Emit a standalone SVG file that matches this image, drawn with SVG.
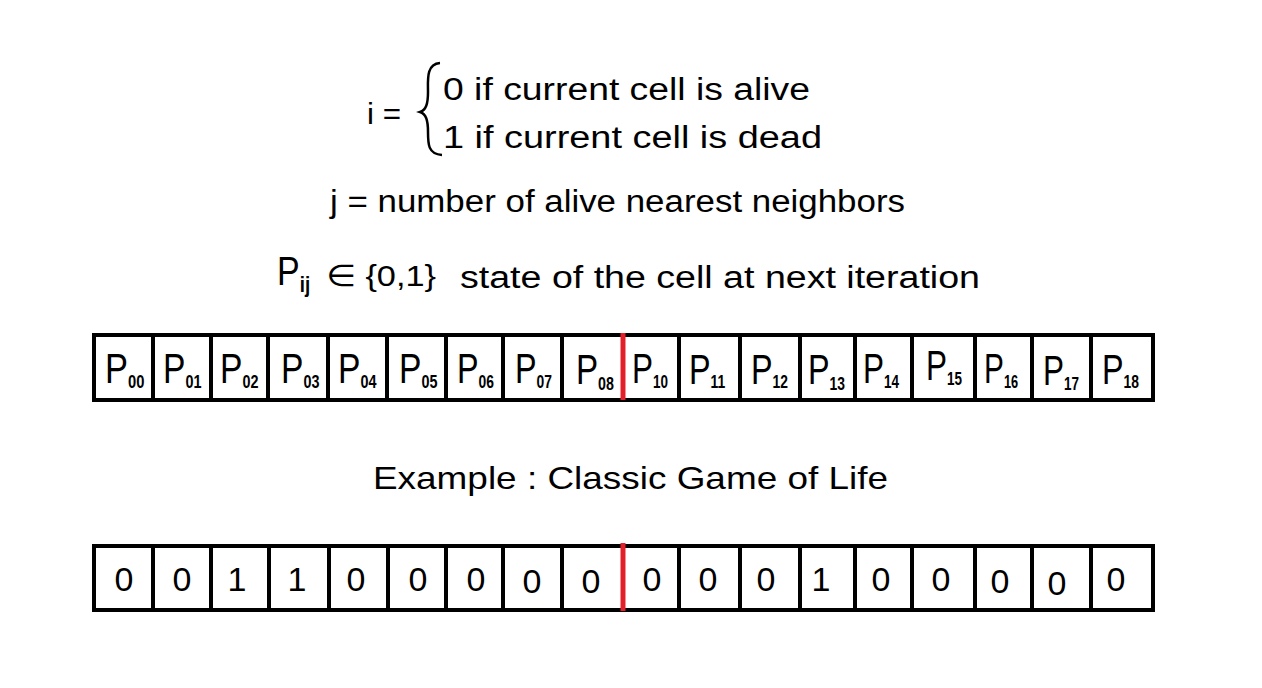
<svg xmlns="http://www.w3.org/2000/svg" width="1262" height="688" viewBox="0 0 1262 688">
<style>
.t{font-family:"Liberation Sans","DejaVu Sans",sans-serif;fill:#000}
.cell{fill:#fff;stroke:#000;stroke-width:4}
.p{font-family:"Liberation Sans",sans-serif;font-size:42px}
.s{font-size:18px;font-weight:bold}
.d{font-family:"Liberation Sans",sans-serif;font-size:34px;text-anchor:middle}
.red{stroke:#e3202a;stroke-width:5;fill:none}
</style>
<rect width="1262" height="688" fill="#fff"/>
<g id="definitions">
<text class="t" x="367" y="124" font-size="30" textLength="34" lengthAdjust="spacingAndGlyphs">i =</text>
<path d="M440,63 C426,64 428,80 428,92 C428,104 426,110 420,112 C426,114 428,120 428,132 C428,144 428,154 442,155" fill="none" stroke="#000" stroke-width="2.5"/>
<text class="t" x="443" y="100" font-size="31" textLength="367" lengthAdjust="spacingAndGlyphs">0  if  current cell is alive</text>
<text class="t" x="443" y="148" font-size="31" textLength="379" lengthAdjust="spacingAndGlyphs">1  if  current cell is dead</text>
<text class="t" x="330" y="212" font-size="31" textLength="575" lengthAdjust="spacingAndGlyphs">j =  number of alive nearest neighbors</text>
<text class="t" transform="translate(277,285) scale(0.85,1)" font-size="40">P<tspan font-size="22" font-weight="bold" dy="7">ij</tspan></text>
<text class="t" x="326" y="286" font-size="30" textLength="110" lengthAdjust="spacingAndGlyphs">∈ {0,1}</text>
<text class="t" x="460" y="288" font-size="31" textLength="520" lengthAdjust="spacingAndGlyphs">state of the cell at next iteration</text>
<text class="t" x="373" y="489" font-size="32" textLength="515" lengthAdjust="spacingAndGlyphs">Example :  Classic Game of Life</text>
</g>
<g id="row-P">
<g id="c00"><rect class="cell" x="94" y="335" width="59" height="65"/><text class="p" transform="translate(105,383) scale(0.82,1)">P<tspan class="s" dy="5">00</tspan></text></g>
<g id="c01"><rect class="cell" x="153" y="335" width="58" height="65"/><text class="p" transform="translate(163,383) scale(0.8,1)">P<tspan class="s" dy="5">01</tspan></text></g>
<g id="c02"><rect class="cell" x="211" y="335" width="57" height="65"/><text class="p" transform="translate(220,383) scale(0.8,1)">P<tspan class="s" dy="5">02</tspan></text></g>
<g id="c03"><rect class="cell" x="268" y="335" width="60" height="65"/><text class="p" transform="translate(281,383) scale(0.8,1)">P<tspan class="s" dy="5">03</tspan></text></g>
<g id="c04"><rect class="cell" x="328" y="335" width="59" height="65"/><text class="p" transform="translate(338,383) scale(0.8,1)">P<tspan class="s" dy="5">04</tspan></text></g>
<g id="c05"><rect class="cell" x="387" y="335" width="59" height="65"/><text class="p" transform="translate(399,383) scale(0.8,1)">P<tspan class="s" dy="5">05</tspan></text></g>
<g id="c06"><rect class="cell" x="446" y="335" width="57" height="65"/><text class="p" transform="translate(457,383) scale(0.77,1)">P<tspan class="s" dy="5">06</tspan></text></g>
<g id="c07"><rect class="cell" x="503" y="335" width="59" height="65"/><text class="p" transform="translate(515,383) scale(0.77,1)">P<tspan class="s" dy="5">07</tspan></text></g>
<g id="c08"><rect class="cell" x="562" y="335" width="61" height="65"/><text class="p" transform="translate(576,384) scale(0.79,1)">P<tspan class="s" dy="6">08</tspan></text></g>
<g id="c10"><rect class="cell" x="623" y="335" width="56" height="65"/><text class="p" transform="translate(632,383) scale(0.75,1)">P<tspan class="s" dy="5">10</tspan></text></g>
<g id="c11"><rect class="cell" x="679" y="335" width="61" height="65"/><text class="p" transform="translate(689,384) scale(0.77,1)">P<tspan class="s" dy="4">11</tspan></text></g>
<g id="c12"><rect class="cell" x="740" y="335" width="60" height="65"/><text class="p" transform="translate(751,384) scale(0.77,1)">P<tspan class="s" dy="4">12</tspan></text></g>
<g id="c13"><rect class="cell" x="800" y="335" width="55" height="65"/><text class="p" transform="translate(808,384) scale(0.77,1)">P<tspan class="s" dy="6">13</tspan></text></g>
<g id="c14"><rect class="cell" x="855" y="335" width="57" height="65"/><text class="p" transform="translate(863,383) scale(0.75,1)">P<tspan class="s" dy="5">14</tspan></text></g>
<g id="c15"><rect class="cell" x="912" y="335" width="63" height="65"/><text class="p" transform="translate(926,380) scale(0.75,1)">P<tspan class="s" dy="5">15</tspan></text></g>
<g id="c16"><rect class="cell" x="975" y="335" width="57" height="65"/><text class="p" transform="translate(984,383) scale(0.71,1)">P<tspan class="s" dy="5">16</tspan></text></g>
<g id="c17"><rect class="cell" x="1032" y="335" width="59" height="65"/><text class="p" transform="translate(1043,385) scale(0.75,1)">P<tspan class="s" dy="5">17</tspan></text></g>
<g id="c18"><rect class="cell" x="1091" y="335" width="62" height="65"/><text class="p" transform="translate(1102,384) scale(0.77,1)">P<tspan class="s" dy="4">18</tspan></text></g>
<path class="red" d="M623,333 L623,400"/>
</g>
<g id="row-example">
<g id="e00"><rect class="cell" x="94" y="546" width="59" height="64"/><text class="d" x="124" y="591">0</text></g>
<g id="e01"><rect class="cell" x="153" y="546" width="58" height="64"/><text class="d" x="182" y="591">0</text></g>
<g id="e02"><rect class="cell" x="211" y="546" width="58" height="64"/><text class="d" x="237" y="591">1</text></g>
<g id="e03"><rect class="cell" x="269" y="546" width="60" height="64"/><text class="d" x="297" y="591">1</text></g>
<g id="e04"><rect class="cell" x="329" y="546" width="59" height="64"/><text class="d" x="356" y="591">0</text></g>
<g id="e05"><rect class="cell" x="388" y="546" width="58" height="64"/><text class="d" x="418" y="591">0</text></g>
<g id="e06"><rect class="cell" x="446" y="546" width="57" height="64"/><text class="d" x="476" y="591">0</text></g>
<g id="e07"><rect class="cell" x="503" y="546" width="59" height="64"/><text class="d" x="532" y="593">0</text></g>
<g id="e08"><rect class="cell" x="562" y="546" width="61" height="64"/><text class="d" x="591" y="593">0</text></g>
<g id="e10"><rect class="cell" x="623" y="546" width="56" height="64"/><text class="d" x="652" y="591">0</text></g>
<g id="e11"><rect class="cell" x="679" y="546" width="61" height="64"/><text class="d" x="708" y="591">0</text></g>
<g id="e12"><rect class="cell" x="740" y="546" width="60" height="64"/><text class="d" x="766" y="591">0</text></g>
<g id="e13"><rect class="cell" x="800" y="546" width="55" height="64"/><text class="d" x="821" y="591">1</text></g>
<g id="e14"><rect class="cell" x="855" y="546" width="57" height="64"/><text class="d" x="881" y="591">0</text></g>
<g id="e15"><rect class="cell" x="912" y="546" width="63" height="64"/><text class="d" x="941" y="591">0</text></g>
<g id="e16"><rect class="cell" x="975" y="546" width="57" height="64"/><text class="d" x="1000" y="593">0</text></g>
<g id="e17"><rect class="cell" x="1032" y="546" width="59" height="64"/><text class="d" x="1057" y="595">0</text></g>
<g id="e18"><rect class="cell" x="1091" y="546" width="62" height="64"/><text class="d" x="1116" y="591">0</text></g>
<path class="red" d="M623,543 L623,611"/>
</g>
</svg>
